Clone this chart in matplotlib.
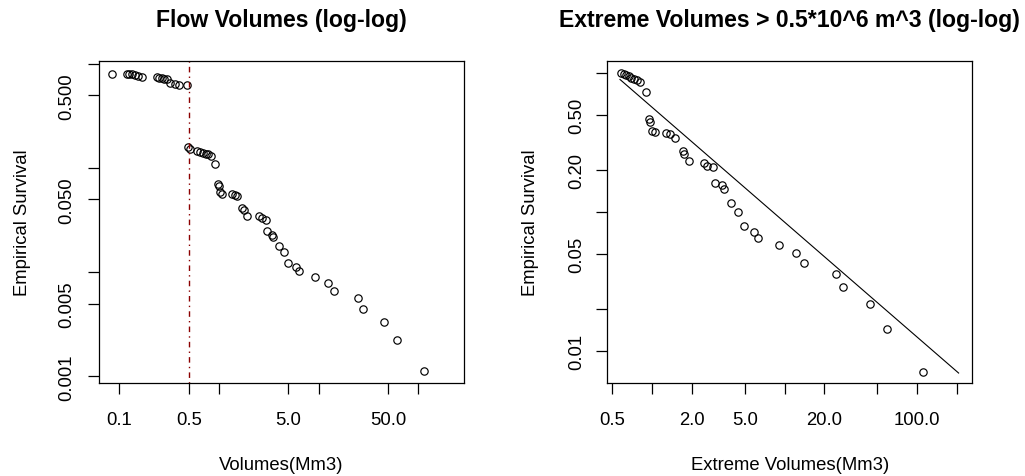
import matplotlib
matplotlib.use("Agg")
import matplotlib.pyplot as plt
from matplotlib.ticker import FixedLocator, FixedFormatter, NullLocator

plt.rcParams['font.family'] = ['Liberation Sans', 'DejaVu Sans']

# ---- data: all flow volumes (left panel) ----
flow_vol = [0.0857, 0.1195, 0.1268, 0.1350, 0.1447, 0.1561, 0.1689, 0.2386, 0.2534,
            0.2679, 0.2825, 0.3007, 0.3245, 0.3641, 0.4021, 0.4837,
            0.4882, 0.5148, 0.601, 0.6484, 0.6998, 0.7396, 0.7852, 0.8357, 0.9167,
            0.989, 1.017, 1.029, 1.085, 1.348, 1.455, 1.512, 1.697, 1.798, 1.905,
            2.513, 2.693, 3.009, 3.044, 3.393, 3.521, 3.988, 4.476, 4.977, 5.972,
            6.399, 9.215, 12.3, 14.29, 25.03, 27.9, 45.0, 60.8, 114.8]
flow_surv = [0.810, 0.807, 0.801, 0.796, 0.784, 0.767, 0.750, 0.742, 0.734,
             0.729, 0.724, 0.713, 0.661, 0.636, 0.628, 0.624,
             0.1585, 0.1526, 0.1469, 0.1438, 0.1396, 0.1366, 0.1351, 0.1316, 0.1095,
             0.0704, 0.0673, 0.0583, 0.0570, 0.0558, 0.0551, 0.0536, 0.0418, 0.0396, 0.0349,
             0.0345, 0.0332, 0.0319, 0.0246, 0.0230, 0.0218, 0.01785, 0.01553, 0.01218, 0.01117,
             0.0102, 0.00895, 0.00787, 0.0066, 0.00569, 0.00443, 0.0033, 0.00222, 0.00112]
threshold = 0.5

# ---- data: extreme volumes (right panel) ----
ext_vol = [0.5868, 0.6129, 0.6401, 0.6685, 0.6982, 0.7292, 0.7683, 0.8092, 0.891,
           0.942, 0.963, 0.989, 1.060, 1.272, 1.376, 1.493, 1.701, 1.749, 1.888,
           2.477, 2.582, 2.896, 2.984, 3.387, 3.489, 3.926, 4.428, 4.940, 5.929,
           6.335, 9.081, 12.14, 14.03, 24.47, 27.78, 44.2, 59.1, 110.5]
ext_surv = [0.992, 0.974, 0.958, 0.939, 0.921, 0.901, 0.879, 0.853, 0.724,
            0.4675, 0.4426, 0.3827, 0.3753, 0.369, 0.360, 0.3425, 0.2727, 0.2609, 0.2312,
            0.2248, 0.215, 0.2094, 0.1607, 0.1562, 0.1462, 0.1160, 0.1008, 0.0796, 0.0722,
            0.0648, 0.0579, 0.0505, 0.0430, 0.0359, 0.0288, 0.02185, 0.01446, 0.00714]
fit_x = [0.5716, 206.7]
fit_y = [0.894, 0.00698]

# ---- ticks ----
left_xticks = [0.1, 0.5, 1, 5, 10, 50, 100]
left_xlabels = ['0.1', '0.5', '', '5.0', '', '50.0', '']
left_yticks = [0.001, 0.005, 0.01, 0.05, 0.1, 0.5, 1]
left_ylabels = ['0.001', '0.005', '', '0.050', '', '0.500', '']
right_xticks = [0.5, 1, 2, 5, 10, 20, 50, 100, 200]
right_xlabels = ['0.5', '', '2.0', '5.0', '', '20.0', '', '100.0', '']
right_yticks = [0.01, 0.02, 0.05, 0.1, 0.2, 0.5, 1]
right_ylabels = ['0.01', '', '0.05', '', '0.20', '0.50', '']

W, H = 1025, 477
fig = plt.figure(figsize=(W / 100, H / 100), dpi=100)

def px_axes(x0, x1, y0, y1):
    return fig.add_axes([x0 / W, 1 - y1 / H, (x1 - x0) / W, (y1 - y0) / H])

axL = px_axes(99, 464, 62, 384)
axR = px_axes(607, 972.3, 62, 384)

FS = 13.3
mk = dict(marker='o', linestyle='none', markersize=5.3, markerfacecolor='none',
          markeredgecolor='black', markeredgewidth=0.85)

axL.plot(flow_vol, flow_surv, **mk)
axL.axvline(threshold, color='#8B0000', linewidth=1.0, linestyle=(0, (1, 3, 4, 3)))
axR.plot(ext_vol, ext_surv, **mk)
axR.plot(fit_x, fit_y, color='black', linewidth=0.8)

def style(ax, xt, xl, yt, yl, xlim, ylim, xlabel, ylpad, ytpad):
    ax.set_xscale('log')
    ax.set_yscale('log')
    ax.set_xlim(*xlim)
    ax.set_ylim(*ylim)
    ax.xaxis.set_major_locator(FixedLocator(xt))
    ax.xaxis.set_major_formatter(FixedFormatter(xl))
    ax.yaxis.set_major_locator(FixedLocator(yt))
    ax.yaxis.set_major_formatter(FixedFormatter(yl))
    ax.xaxis.set_minor_locator(NullLocator())
    ax.yaxis.set_minor_locator(NullLocator())
    ax.tick_params(axis='x', length=8, width=0.9, pad=12.5, labelsize=FS, colors='black')
    ax.tick_params(axis='y', length=8, width=0.9, pad=ytpad, labelsize=FS, colors='black')
    for lab in ax.get_yticklabels():
        lab.set_rotation(90)
        lab.set_va('center')
    for s in ax.spines.values():
        s.set_linewidth(0.9)
        s.set_color('black')
    ax.set_xlabel(xlabel, fontsize=FS, labelpad=19.5)
    ax.set_ylabel('Empirical Survival', fontsize=FS, labelpad=ylpad)

style(axL, left_xticks, left_xlabels, left_yticks, left_ylabels,
      (0.06304, 287.1), (0.000862, 1.0686), 'Volumes(Mm3)', 20, 8.9)
style(axR, right_xticks, right_xlabels, right_yticks, right_ylabels,
      (0.456, 262.3), (0.00592, 1.213), 'Extreme Volumes(Mm3)', 21, 8.0)

fig.text(281.5 / W, 1 - 26.5 / H, 'Flow Volumes (log-log)', ha='center', va='baseline',
         fontsize=16.6, fontweight='bold')
fig.text(789.6 / W, 1 - 26.5 / H, 'Extreme Volumes > 0.5*10^6 m^3 (log-log)', ha='center',
         va='baseline', fontsize=16.6, fontweight='bold')

fig.savefig('out.png', dpi=100, facecolor='white')
